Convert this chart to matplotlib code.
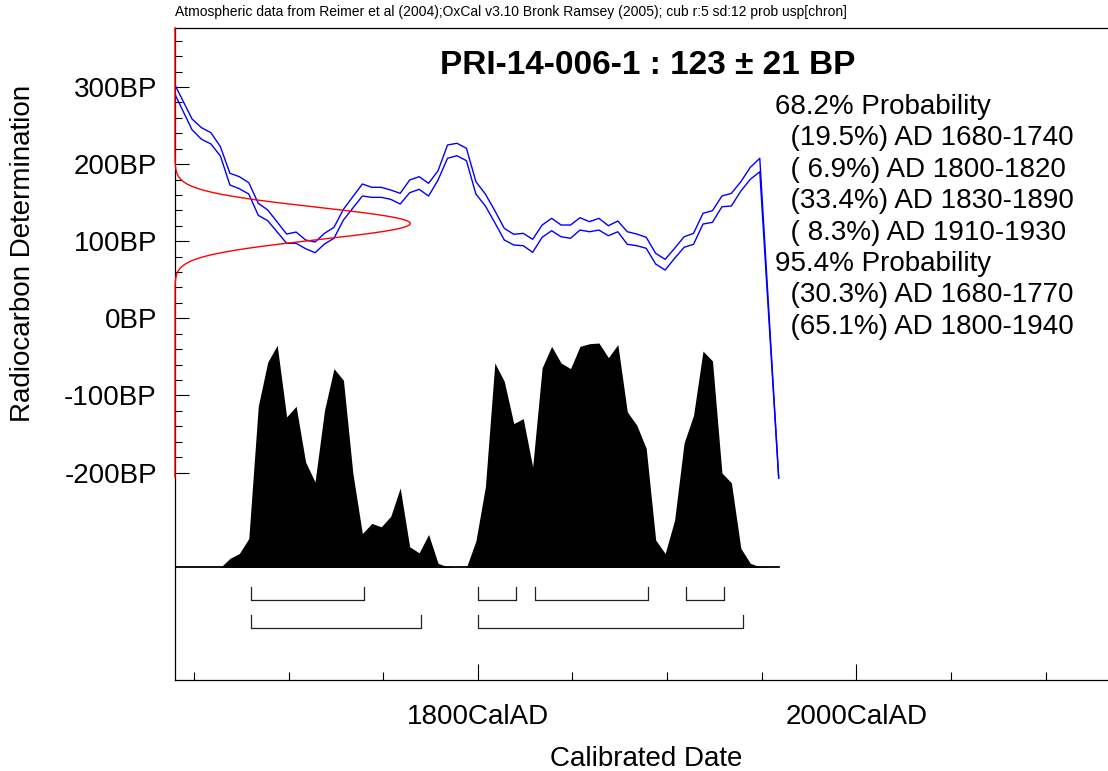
import numpy as np
import matplotlib
matplotlib.use('Agg')
from matplotlib import pyplot as plt
from matplotlib.ticker import FixedLocator

plt.rcParams['font.family'] = ['Liberation Sans', 'DejaVu Sans']

# radiocarbon date
sample = 'PRI-14-006-1'
date_bp = 123
date_sd = 21

# calibration curve (mean +/- 1 sigma), BP
curve_years = [1640, 1649, 1654, 1659, 1664, 1669, 1674, 1679, 1684, 1689,
               1699, 1704, 1709, 1714, 1719, 1724, 1729,
               1739, 1744, 1749, 1754, 1759, 1764, 1769, 1774, 1779, 1784,
               1789, 1794, 1799, 1804, 1809, 1814, 1819, 1824, 1829, 1834,
               1839, 1844, 1849, 1854, 1859, 1864, 1869, 1874, 1879, 1884,
               1889, 1894, 1899, 1904, 1909, 1914, 1919, 1924, 1929, 1934,
               1939, 1944, 1949, 1959]
curve_upper = [302.6, 258.5, 247.2, 240.7, 222.6, 188.1, 183.7, 175.9, 149.2, 140.5,
               109.3, 111.9, 101.6, 99.0, 110.2, 118.0, 141.4,
               174.2, 169.9, 169.9, 166.4, 162.1, 179.4, 183.7, 175.1, 191.4, 224.8,
               227.0, 220.5, 177.2, 161.2, 139.6, 116.7, 109.0, 110.2, 102.5, 121.0,
               129.7, 121.0, 121.0, 130.5, 125.3, 129.7, 120.1, 126.2, 112.3, 109.3,
               105.1, 84.3, 76.5, 90.8, 105.8, 110.2, 136.2, 139.6, 158.6, 162.1,
               177.2, 195.8, 207.5, -207.1]
curve_lower = [290.5, 244.5, 232.2, 226.1, 210.5, 172.9, 168.1, 161.2, 133.6, 126.6,
               97.3, 97.3, 90.3, 85.1, 96.4, 103.8, 127.5,
               158.6, 156.9, 156.9, 154.3, 148.2, 162.9, 167.3, 158.6, 179.4, 207.5,
               210.9, 204.4, 161.2, 145.7, 124.0, 101.6, 95.1, 94.2, 85.6, 105.1,
               113.6, 105.8, 103.8, 114.5, 112.3, 114.5, 107.1, 112.3, 96.0, 94.2,
               90.8, 70.4, 62.6, 77.8, 92.1, 96.0, 122.3, 124.5, 144.7, 145.7,
               165.1, 180.3, 190.1, -207.1]

# calibrated probability (% of maximum)
prob_years = list(range(1664, 1960, 5))
prob_values = [0, 4.0, 6.2, 12.9, 71.8, 91.5, 99.0, 67.1, 71.8, 47.0,
               38.1, 70.0, 88.6, 83.4, 41.9, 15.1, 19.6, 18.1, 22.8, 35.4,
               9.2, 6.5, 14.7, 1.8, 0.3, 0, 0, 11.8, 35.9, 91.1,
               82.9, 64.1, 66.3, 44.8, 89.0, 98.5, 91.1, 88.6, 98.5, 99.7,
               100.0, 93.5, 99.3, 69.3, 63.4, 53.0, 12.2, 6.2, 21.1, 55.5,
               67.8, 96.4, 92.0, 42.1, 37.7, 8.5, 1.8, 0.3, 0.1, 0]

# ranges
ranges_68 = [(1680, 1740, 19.5), (1800, 1820, 6.9), (1830, 1890, 33.4), (1910, 1930, 8.3)]
ranges_95 = [(1680, 1770, 30.3), (1800, 1940, 65.1)]

header = ('Atmospheric data from Reimer et al (2004);OxCal v3.10 Bronk Ramsey (2005); '
          'cub r:5 sd:12 prob usp[chron]')

fig = plt.figure(figsize=(11.08, 7.71), dpi=100)
ax = fig.add_axes([175 / 1108, 91 / 771, 933 / 1108, 652 / 771])
ax.set_xlim(1640, 2133)
ax.set_ylim(-469, 376.5)

# calibration curve
ax.plot(curve_years, curve_upper, color='#0000ff', lw=1.0, zorder=3)
ax.plot(curve_years, curve_lower, color='#0000ff', lw=1.0, zorder=3)

# radiocarbon date as normal curve on the y axis
bp = np.linspace(-206, 376.5, 800)
amp = 124.3
ax.plot(1640 + amp * np.exp(-0.5 * ((bp - date_bp) / date_sd) ** 2), bp,
        color='#ff0000', lw=1.0, zorder=4, clip_on=False)

# calibrated distribution
base = -323
scale = 2.91
ax.fill_between(prob_years, base, base + np.array(prob_values) * scale,
                color='black', lw=0, zorder=2)
ax.plot([ax.get_xlim()[0], prob_years[-1]], [base, base], color='black', lw=1.3, zorder=2)

# range brackets
for row, rngs in enumerate([ranges_68, ranges_95]):
    top = base - 25 - row * 36.5
    bot = top - 17.4
    for a, b, p in rngs:
        ax.plot([a, a, b, b], [top, bot, bot, top], color='#222222', lw=0.9)

# axes styling
ax.spines['right'].set_visible(False)
for s in ['left', 'top', 'bottom']:
    ax.spines[s].set_linewidth(0.9)
ax.yaxis.set_major_locator(FixedLocator([-200, -100, 0, 100, 200, 300]))
ax.yaxis.set_minor_locator(FixedLocator(list(range(-200, 361, 20))))
ax.set_yticklabels([f'{v}BP' for v in [-200, -100, 0, 100, 200, 300]])
ax.xaxis.set_major_locator(FixedLocator([1800, 2000]))
ax.xaxis.set_minor_locator(FixedLocator([1650, 1700, 1750, 1850, 1900, 1950, 2050, 2100]))
ax.set_xticklabels(['1800CalAD', '2000CalAD'])
ax.tick_params(axis='y', which='major', direction='in', length=10, width=0.8, pad=13, labelsize=20)
ax.tick_params(axis='y', which='minor', direction='in', length=5, width=0.8)
ax.tick_params(axis='x', which='major', direction='in', length=11.5, width=0.8, pad=17, labelsize=20)
ax.tick_params(axis='x', which='minor', direction='in', length=5.8, width=0.8)

fig.text(175 / 1108, 1 - 12 / 771, header, fontsize=10, ha='left', va='center')
fig.text(648 / 1108, 1 - 66 / 771, f'{sample} : {date_bp} \u00b1 {date_sd} BP',
         fontsize=24, fontweight='bold', ha='center', va='center')

lines = ['68.2% Probability']
lines += [f'  ({p:4.1f}%) AD {a}-{b}' for a, b, p in ranges_68]
lines += ['95.4% Probability']
lines += [f'  ({p:4.1f}%) AD {a}-{b}' for a, b, p in ranges_95]
for i, line in enumerate(lines):
    fig.text(775 / 1108, 1 - (107 + i * 31.4) / 771, line, fontsize=20, ha='left', va='center')

fig.text(23 / 1108, 1 - 253 / 771, 'Radiocarbon Determination', fontsize=20,
         rotation=90, ha='center', va='center')
fig.text(646 / 1108, 1 - 759 / 771, 'Calibrated Date', fontsize=20, ha='center', va='center')

fig.savefig('out.png', dpi=100)
